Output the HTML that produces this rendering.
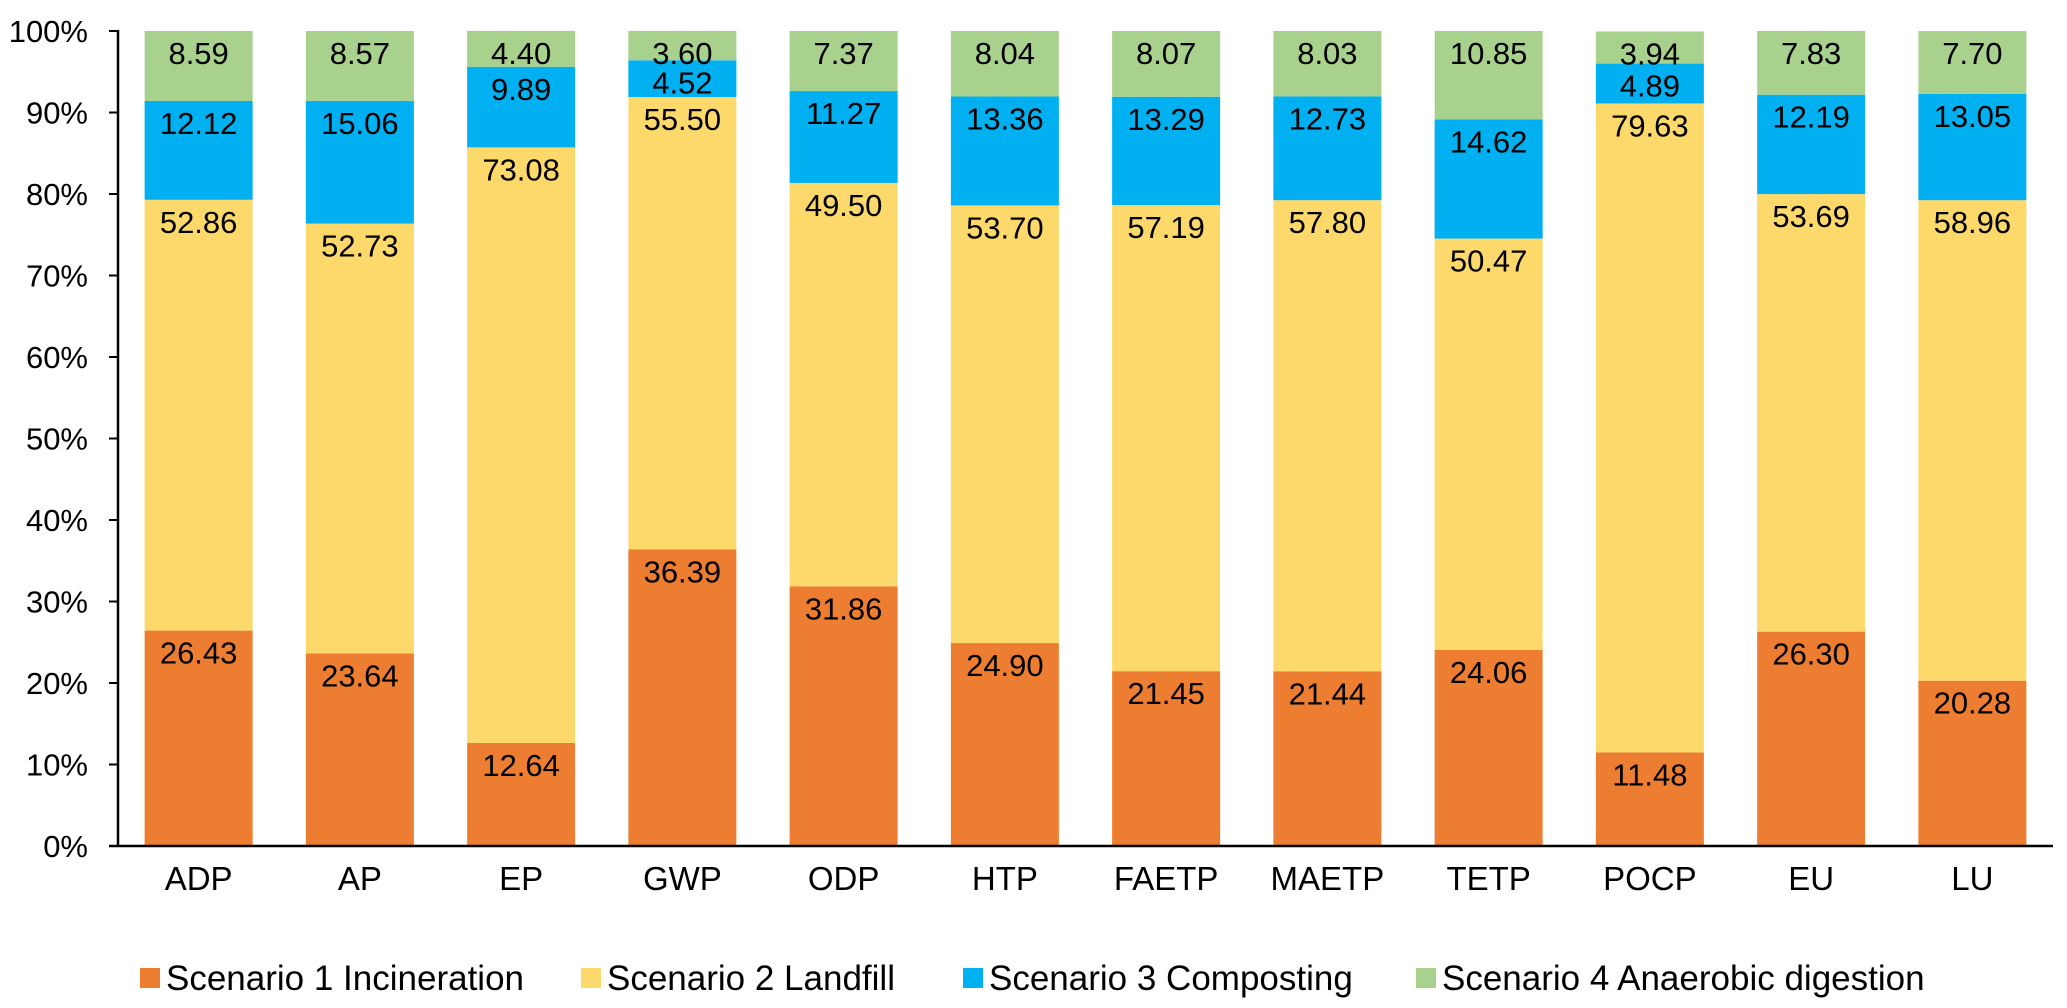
<!DOCTYPE html>
<html><head><meta charset="utf-8"><style>
body{margin:0;background:#fff}
svg{display:block;font-family:"Liberation Sans",Arial,sans-serif}
</style></head><body>
<svg id="chart" width="2067" height="1008"></svg>
<script>
const categories=["ADP","AP","EP","GWP","ODP","HTP","FAETP","MAETP","TETP","POCP","EU","LU"];
const incineration=[26.43,23.64,12.64,36.39,31.86,24.90,21.45,21.44,24.06,11.48,26.30,20.28];
const landfill=[52.86,52.73,73.08,55.50,49.50,53.70,57.19,57.80,50.47,79.63,53.69,58.96];
const composting=[12.12,15.06,9.89,4.52,11.27,13.36,13.29,12.73,14.62,4.89,12.19,13.05];
const digestion=[8.59,8.57,4.40,3.60,7.37,8.04,8.07,8.03,10.85,3.94,7.83,7.70];
const seriesNames=["Scenario 1 Incineration","Scenario 2 Landfill","Scenario 3 Composting","Scenario 4 Anaerobic digestion"];
const yTicks=[0,10,20,30,40,50,60,70,80,90,100];

const NS="http://www.w3.org/2000/svg";
const svg=document.getElementById('chart');
const X0=118,X1=2053,Y0=846,Y1=31;
const pitch=(X1-X0)/categories.length, bw=108;
const y=v=>Y0-(Y0-Y1)*v/100;
const xc=i=>X0+pitch*(i+0.5);
const colors=["#ED7D31","#FDD96B","#00B0F0","#A9D18E"];
const series=[incineration,landfill,composting,digestion];
function mk(t,a){const e=document.createElementNS(NS,t);for(const k in a)e.setAttribute(k,a[k]);svg.appendChild(e);return e;}

categories.forEach((c,i)=>{
  let base=0;
  series.forEach((s,k)=>{
    const v=s[i];
    const r=mk('rect',{x:xc(i)-bw/2,y:y(base+v),width:bw,height:y(base)-y(base+v),fill:colors[k]});
    
    
    base+=v;
  });
  base=0;
  series.forEach((s,k)=>{
    const v=s[i];
    const t=mk('text',{x:xc(i),y:y(base+v)+33,'text-anchor':'middle','font-size':31,fill:'#000'});
    t.textContent=v.toFixed(2);
    
    
    base+=v;
  });
  const t=mk('text',{x:xc(i),y:890,'text-anchor':'middle','font-size':33,fill:'#000'});
  t.textContent=c;
  
  
});
yTicks.forEach(v=>{
  const l=mk('line',{x1:X0-9,x2:X0,y1:y(v),y2:y(v),stroke:'#000','stroke-width':2});
  
  
  const t=mk('text',{x:88,y:y(v)+11,'text-anchor':'end','font-size':31,fill:'#000'});
  t.textContent=v+'%';
  
  
});
const ya=mk('line',{x1:X0,x2:X0,y1:Y1-1,y2:Y0+1,stroke:'#000','stroke-width':2.5});


const xa=mk('line',{x1:X0-9,x2:X1,y1:Y0,y2:Y0,stroke:'#000','stroke-width':2.5});


const lx=[140,581,963,1416];
seriesNames.forEach((n,k)=>{
  const r=mk('rect',{x:lx[k],y:968,width:20,height:20,fill:colors[k]});
  
  
  const t=mk('text',{x:lx[k]+26,y:990,'font-size':35,fill:'#000'});
  t.textContent=n;
  
  
});
</script>
</body></html>
